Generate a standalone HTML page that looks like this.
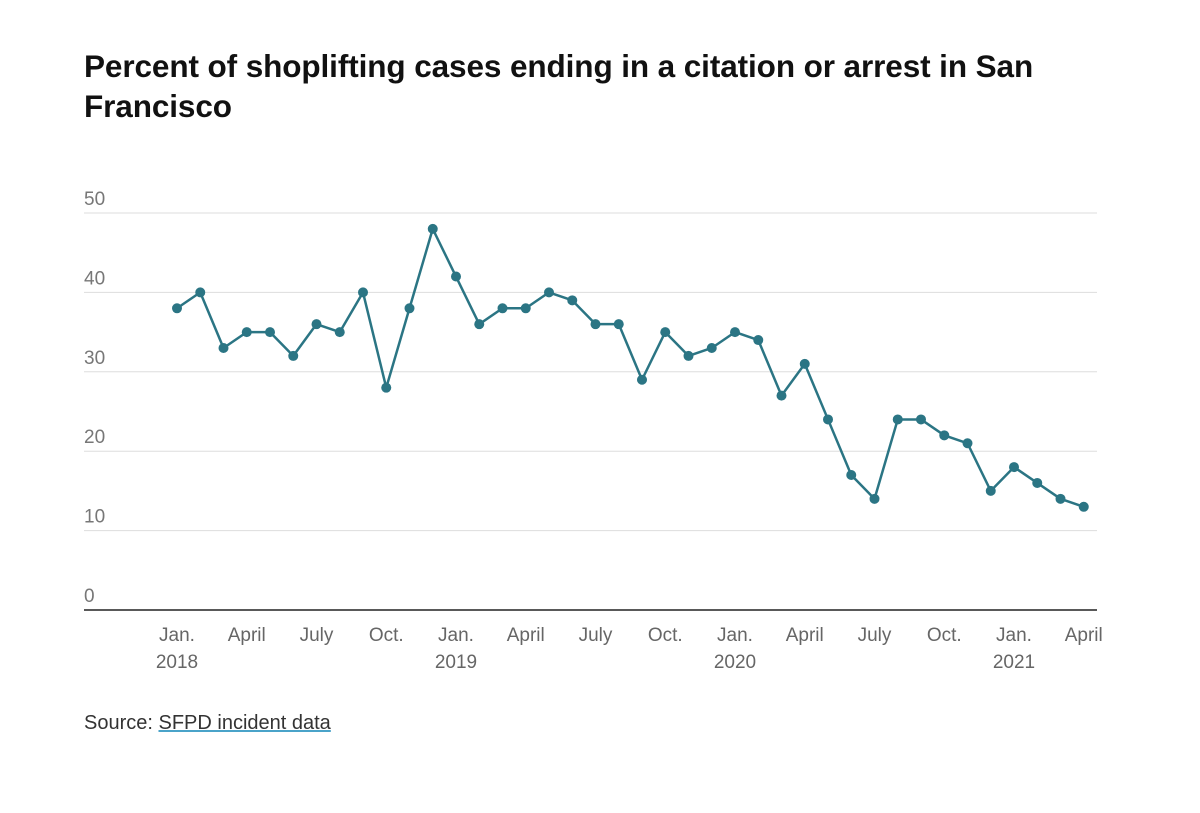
<!DOCTYPE html>
<html><head><meta charset="utf-8"><style>
body{margin:0;background:#fff;width:1200px;height:813px;overflow:hidden;font-family:"Liberation Sans",sans-serif}
h1{position:absolute;left:84px;top:46px;margin:0;width:1000px;font-size:31.5px;line-height:40px;font-weight:bold;color:#111;letter-spacing:-0.1px}
#src{position:absolute;left:84px;top:712px;font-size:20px;color:#333}
#src a{color:#333;text-decoration:underline;text-decoration-color:#4aa3c9}
svg{position:absolute;left:0;top:0}
</style></head><body>
<h1>Percent of shoplifting cases ending in a citation or arrest in San Francisco</h1>
<svg id="chart" width="1200" height="813"></svg>
<div id="src">Source: <a>SFPD incident data</a></div>
<script>
const values=[38,40,33,35,35,32,36,35,40,28,38,48,42,36,38,38,40,39,36,36,29,35,32,33,35,34,27,31,24,17,14,24,24,22,21,15,18,16,14,13];
const yTicks=[0,10,20,30,40,50];
const xTickMonths=[0,3,6,9,12,15,18,21,24,27,30,33,36,39];
const xTickLabels=["Jan.","April","July","Oct.","Jan.","April","July","Oct.","Jan.","April","July","Oct.","Jan.","April"];
const xYearLabels={0:"2018",12:"2019",24:"2020",36:"2021"};
const NS="http://www.w3.org/2000/svg";
const svg=document.getElementById('chart');
const x=m=>177+m*23.25;
const y=v=>610-v*7.94;
function mk(t,a){const e=document.createElementNS(NS,t);for(const k in a)e.setAttribute(k,a[k]);svg.appendChild(e);return e;}
yTicks.forEach(v=>{
 const l=mk('line',{x1:84,x2:1097,y1:y(v),y2:y(v),stroke:v===0?'#222':'#ddd','stroke-width':v===0?1.5:1});
 
 
 const t=mk('text',{x:84,y:y(v)-8,'font-size':19,fill:'#777','font-family':'Liberation Sans, sans-serif'});
 t.textContent=v;
 
 
});
xTickMonths.forEach((m,i)=>{
 const t=mk('text',{x:x(m),y:641,'font-size':19,fill:'#666','text-anchor':'middle','font-family':'Liberation Sans, sans-serif'});
 t.textContent=xTickLabels[i];
 
 
 if(xYearLabels[m]){
  const yt=mk('text',{x:x(m),y:668,'font-size':19,fill:'#666','text-anchor':'middle','font-family':'Liberation Sans, sans-serif'});
  yt.textContent=xYearLabels[m];
  
  
 }
});
const p=mk('polyline',{points:values.map((v,i)=>x(i)+','+y(v)).join(' '),fill:'none',stroke:'#2b7584','stroke-width':2.5,'stroke-linejoin':'round'});


values.forEach((v,i)=>{
 const c=mk('circle',{cx:x(i),cy:y(v),r:5,fill:'#2b7584'});
 
 
});
</script>
</body></html>
